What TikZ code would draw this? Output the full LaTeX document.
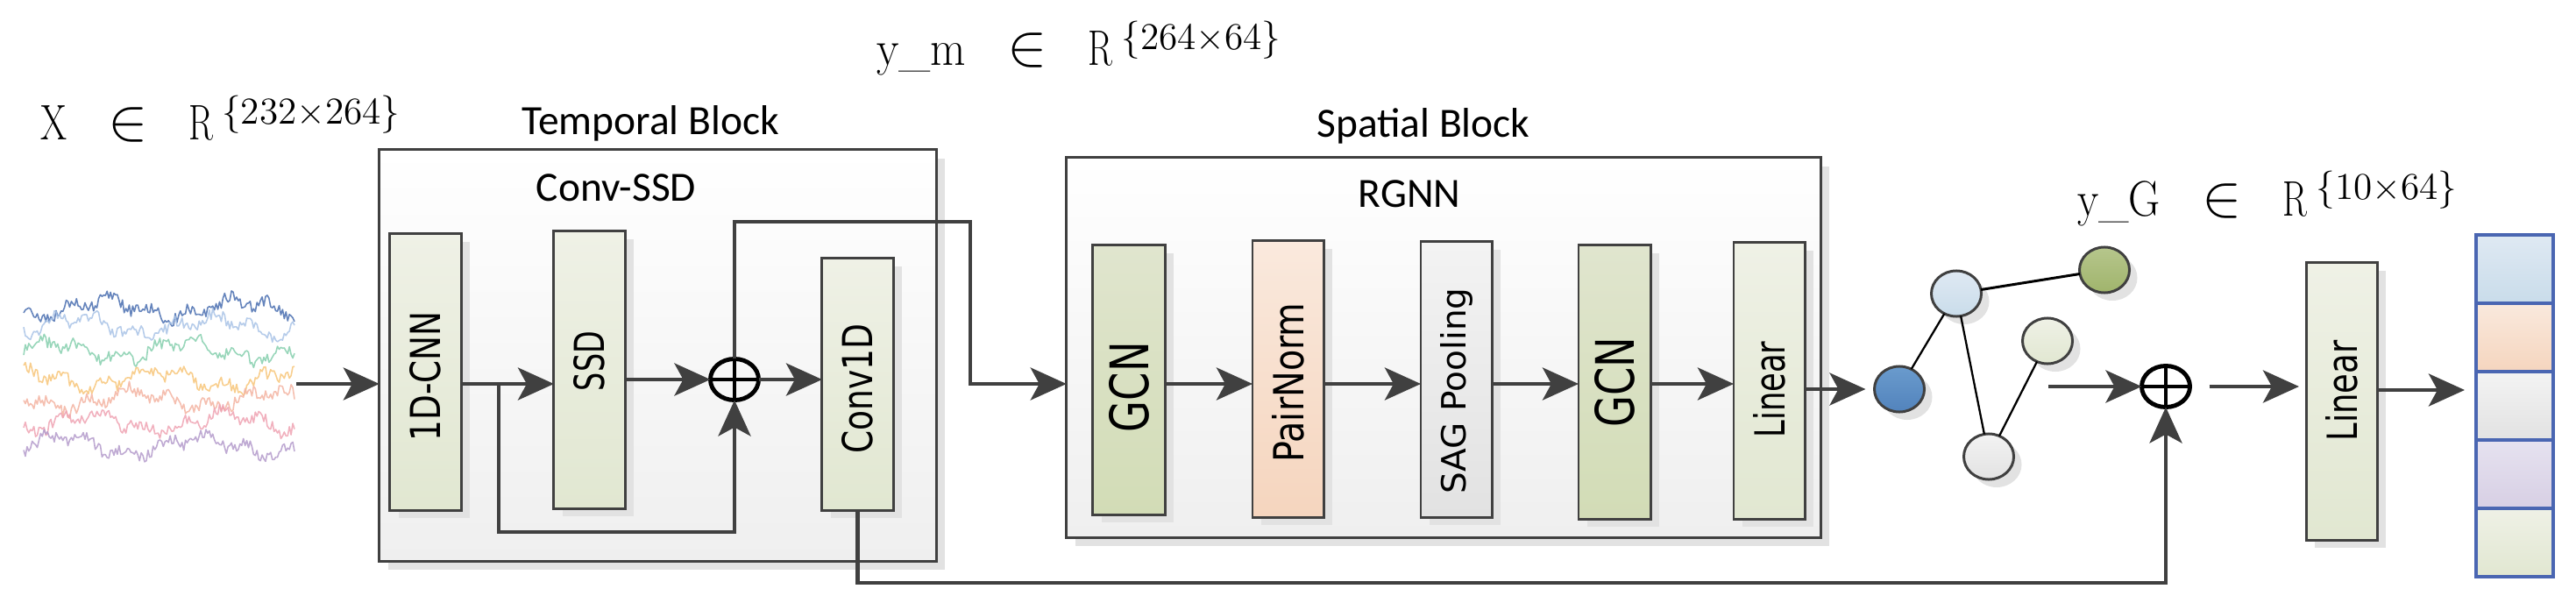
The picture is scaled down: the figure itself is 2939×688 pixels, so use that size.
\documentclass[tikz,border=0pt]{standalone}
\usepackage{fontspec}
\usepackage{graphicx}
\usetikzlibrary{arrows.meta, positioning, shapes.geometric, shadows}

\newfontfamily\blockfont{DejaVu Sans}
\newfontfamily\titlefont{Carlito}

\definecolor{linegray}{HTML}{404040}
\definecolor{shadowgray}{HTML}{E2E2E2}
\definecolor{blockbot}{HTML}{EFEFEF}
\definecolor{lyrtop}{HTML}{EFF1E6}
\definecolor{lyrbot}{HTML}{E1E7D1}
\definecolor{gcntop}{HTML}{E0E5CE}
\definecolor{gcnbot}{HTML}{D2DCB6}
\definecolor{normtop}{HTML}{FAE9DD}
\definecolor{normbot}{HTML}{F5D5BE}
\definecolor{pooltop}{HTML}{F3F3F3}
\definecolor{poolbot}{HTML}{E2E2E2}
\definecolor{cellblue}{HTML}{4A66B2}
\definecolor{skytop}{HTML}{DFE9F3}
\definecolor{skybot}{HTML}{C9DCEA}
\definecolor{lilactop}{HTML}{E6E2F0}
\definecolor{lilacbot}{HTML}{D7CFE4}
\definecolor{nodeblueA}{HTML}{6A9BCD}
\definecolor{nodeblueB}{HTML}{5283BC}
\definecolor{nodeoliveA}{HTML}{B6C68C}
\definecolor{nodeoliveB}{HTML}{A0B46C}
\definecolor{eegA}{HTML}{4A6FB0}
\definecolor{eegB}{HTML}{A9C3E6}
\definecolor{eegC}{HTML}{86CFAE}
\definecolor{eegD}{HTML}{F7C67A}
\definecolor{eegE}{HTML}{F3B4A2}
\definecolor{eegF}{HTML}{EFA3B3}
\definecolor{eegG}{HTML}{B49BCB}

% rotated label inside a layer: [shift down]{length}{height}{text}
\newcommand{\vtext}[4][0cm]{\rotatebox{90}{\hspace{-#1}\resizebox{#2}{#3}{#4}\hspace{#1}}}
% tensor shape tag: name, name width, rows, cols
\newcommand{\shapetag}[4]{{\fontsize{16.2pt}{18pt}\selectfont
  \resizebox{#2}{\height}{#1}\hspace{0.47cm}\scalebox{1.12}{$\in$}\hspace{0.47cm}\scalebox{0.72}[1]{R}%
  \hspace{0.1cm}\raisebox{0.18cm}{\fontsize{12.3pt}{13pt}\selectfont\{#3$\times$#4\}}}}

\begin{document}
\begin{tikzpicture}[x=0.01cm, y=-0.01cm,
    every node/.style={inner sep=0pt, outer sep=0pt},
    block/.style={draw=linegray, line width=0.85pt, top color=white, bottom color=blockbot,
        general shadow={fill=shadowgray, shadow xshift=0.1cm, shadow yshift=-0.1cm}},
    layer/.style={draw=linegray, line width=0.85pt, minimum width=0.81cm,
        top color=lyrtop, bottom color=lyrbot, font=\blockfont,
        general shadow={fill=shadowgray, shadow xshift=0.1cm, shadow yshift=-0.09cm}},
    gcnlayer/.style={layer, top color=gcntop, bottom color=gcnbot},
    normlayer/.style={layer, top color=normtop, bottom color=normbot},
    poollayer/.style={layer, top color=pooltop, bottom color=poolbot},
    sumnode/.style={ellipse, draw=black, line width=1.4pt, minimum width=0.55cm, minimum height=0.47cm,
        path picture={\draw[line width=1.4pt] (path picture bounding box.north) -- (path picture bounding box.south)
            (path picture bounding box.west) -- (path picture bounding box.east);}},
    vertex/.style={ellipse, draw=linegray, line width=0.85pt, minimum width=0.57cm, minimum height=0.52cm,
        general shadow={fill=shadowgray, shadow xshift=0.09cm, shadow yshift=-0.09cm}},
    cell/.style={draw=cellblue, line width=1pt, minimum width=0.88cm, minimum height=0.78cm},
    flow/.style={draw=linegray, line width=1.2pt, -{Stealth[length=0.41cm, width=0.37cm, inset=0.1cm]}},
    link/.style={draw=black, line width=0.65pt},
    title/.style={font=\titlefont\fontsize{13.5pt}{15pt}\selectfont, anchor=base}
]
\useasboundingbox (0,0) rectangle (2939,688);

% Shape tags
\node[anchor=base west] (xtag) at (46,160) {\shapetag{X}{0.3cm}{232}{264}};
\node[anchor=base west] (ymtag) at (1000,75) {\shapetag{y\_m}{1.02cm}{264}{64}};
\node[anchor=base west] (ygtag) at (2370,246) {\shapetag{y\_G}{0.95cm}{10}{64}};

% EEG input
\pgfmathsetseed{11}
\foreach \yc/\col/\ph in {352/eegA/0, 372/eegB/70, 400/eegC/140, 432/eegD/210, 456/eegE/280, 482/eegF/35, 508/eegG/105}
  \draw[\col, line width=0.45pt, line join=round, opacity=0.85]
    plot[domain=27:336, samples=160] (\x, {\yc + 9*sin(2.3*\x+\ph) + 6*sin(7.9*\x+2*\ph) + 7*rand});
\coordinate (eeg) at (338,438);
\coordinate (mid) at (0,438);

% Temporal block
\node[block, minimum width=6.35cm, minimum height=4.69cm] (tblock) at (750.5,405.5) {};
\node[title] (tlabel) at (742,153) {Temporal Block};
\node[title] (clabel) at (703,230) {Conv-SSD};
\node[layer, minimum height=3.15cm] (cnn) at (485.5,424.5) {\vtext[0.05cm]{1.48cm}{0.35cm}{1D-CNN}};
\node[layer, minimum height=3.16cm] (ssd) at (672.5,422) {\vtext[-0.1cm]{0.68cm}{0.35cm}{SSD}};
\node[sumnode] (oplus) at (838,433) {};
\node[layer, minimum height=2.87cm] (conv) at (978.5,438.5) {\vtext[0.05cm]{1.48cm}{0.35cm}{Conv1D}};

% Spatial block
\node[block, minimum width=8.6cm, minimum height=4.33cm] (sblock) at (1647,396.5) {};
\node[title] (slabel) at (1624,157) {Spatial Block};
\node[title] (rlabel) at (1608,237) {RGNN};
\node[gcnlayer, minimum width=0.82cm, minimum height=3.07cm] (gcnA) at (1288,433.5) {\vtext[0.08cm]{1.03cm}{0.45cm}{GCN}};
\node[normlayer, minimum height=3.15cm] (pnorm) at (1469.5,432.5) {\vtext[0.04cm]{1.82cm}{0.36cm}{PairNorm}};
\node[poollayer, minimum height=3.14cm] (sag) at (1661.5,433) {\vtext[0.13cm]{2.35cm}{0.29cm}{SAG Pooling}};
\node[gcnlayer, minimum width=0.82cm, minimum height=3.12cm] (gcnB) at (1842,436) {\vtext{1.03cm}{0.45cm}{GCN}};
\node[layer, minimum height=3.15cm] (linA) at (2018.5,434.5) {\vtext[0.1cm]{1.1cm}{0.36cm}{Linear}};

% Graph
\node[vertex, top color=nodeblueA, bottom color=nodeblueB] (vblue) at (2167,444) {};
\node[vertex, top color=skytop, bottom color=skybot] (vsky) at (2232,335) {};
\node[vertex, top color=nodeoliveA, bottom color=nodeoliveB] (volive) at (2401,308) {};
\node[vertex, top color=lyrtop, bottom color=lyrbot] (vpale) at (2336,389) {};
\node[vertex, top color=pooltop, bottom color=poolbot] (vgray) at (2269,521) {};
\draw[link, line width=0.85pt] (vsky) -- (volive);
\draw[link] (vsky) -- (vblue);
\draw[link] (vsky) -- (vgray);
\draw[link] (vpale) -- (vgray);
\coordinate (gout) at (2337,441);

% Readout
\node[sumnode] (oplus2) at (2471,441) {};
\node[layer, minimum height=3.16cm] (linB) at (2671.5,458) {\vtext[-0.12cm]{1.15cm}{0.36cm}{Linear}};
\foreach \i/\yc/\ct/\cb in {1/307/skytop/skybot, 2/385/normtop/normbot, 3/463/pooltop/poolbot,
    4/541/lilactop/lilacbot, 5/619/lyrtop/lyrbot}
  \node[cell, top color=\ct, bottom color=\cb] (c\i) at (2869,\yc) {};
\coordinate (outlvl) at (0,445);
\coordinate (resid) at (0,607);
\coordinate (bend) at (1107,253);
\coordinate (botlvl) at (0,665);
\coordinate (split) at (569,438);

% Connectors
\draw[flow] (eeg) -- (tblock.west |- eeg);
\draw[flow] (cnn.east |- mid) -- (ssd.west |- mid);
\draw[flow] (split) -- (split |- resid) -| (oplus.south);
\draw[flow] (ssd.east |- oplus) -- (oplus.west);
\draw[flow] (oplus.east) -- (conv.west |- oplus);
\draw[flow] (oplus.north) |- (bend) |- (sblock.west |- mid);
\foreach \a/\b in {gcnA/pnorm, pnorm/sag, sag/gcnB, gcnB/linA}
  \draw[flow] (\a.east |- mid) -- (\b.west |- mid);
\draw[flow, shorten >=0.1cm] (linA.east |- vblue) -- (vblue.west);
\draw[flow] (gout) -- (oplus2.west);
\draw[flow, shorten <=0.22cm, shorten >=0.08cm] (oplus2.east) -- (linB.west |- oplus2);
\draw[flow, shorten >=0.13cm] (linB.east |- outlvl) -- (c3.west |- outlvl);
\draw[flow] (conv.south) -- (conv.south |- botlvl) -| (oplus2.south);

\end{tikzpicture}
\end{document}
